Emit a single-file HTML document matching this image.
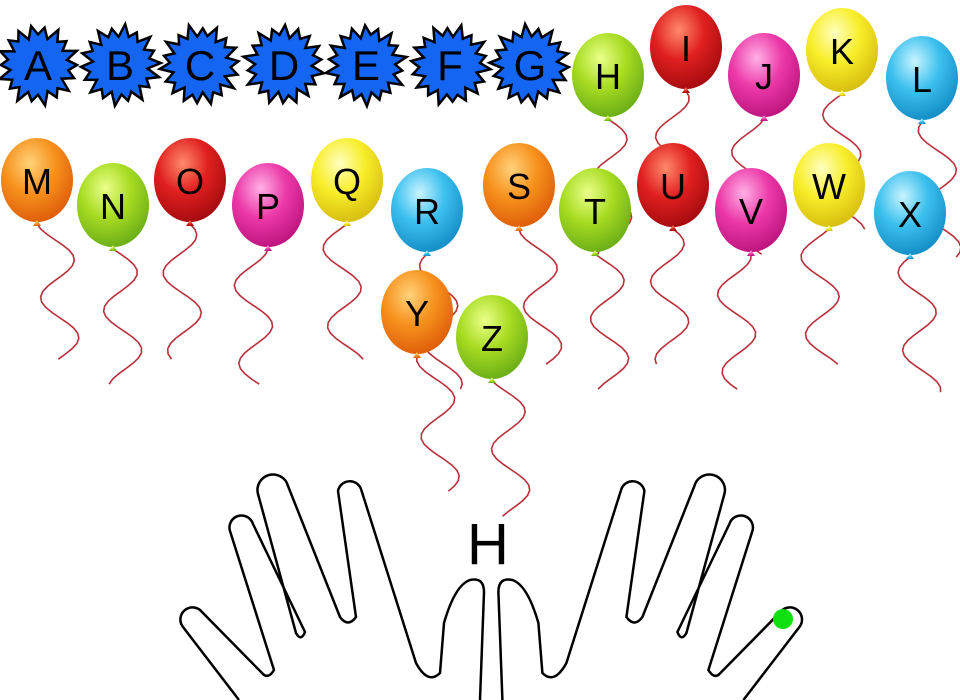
<!DOCTYPE html>
<html><head><meta charset="utf-8"><style>
html,body{margin:0;padding:0;background:#fff;width:960px;height:700px;overflow:hidden}
svg{display:block}
</style></head><body>
<svg id="s" width="960" height="700" viewBox="0 0 960 700" xmlns="http://www.w3.org/2000/svg">
<defs>
<radialGradient id="g-orange" cx="0.4" cy="0.3" r="0.7"><stop offset="0" stop-color="#ffd27a"/><stop offset="0.5" stop-color="#f7921e"/><stop offset="1" stop-color="#e0600a"/></radialGradient>
<radialGradient id="g-green" cx="0.4" cy="0.3" r="0.7"><stop offset="0" stop-color="#eaff8a"/><stop offset="0.5" stop-color="#a8dc22"/><stop offset="1" stop-color="#6eb018"/></radialGradient>
<radialGradient id="g-red" cx="0.4" cy="0.3" r="0.7"><stop offset="0" stop-color="#ff8a6a"/><stop offset="0.5" stop-color="#e02020"/><stop offset="1" stop-color="#a80c10"/></radialGradient>
<radialGradient id="g-pink" cx="0.4" cy="0.3" r="0.7"><stop offset="0" stop-color="#ffb0e6"/><stop offset="0.5" stop-color="#ec3aa8"/><stop offset="1" stop-color="#c01680"/></radialGradient>
<radialGradient id="g-yellow" cx="0.4" cy="0.3" r="0.7"><stop offset="0" stop-color="#ffffc0"/><stop offset="0.5" stop-color="#f8ee2a"/><stop offset="1" stop-color="#d8c010"/></radialGradient>
<radialGradient id="g-blue" cx="0.4" cy="0.3" r="0.7"><stop offset="0" stop-color="#c8f4ff"/><stop offset="0.5" stop-color="#3cc0ee"/><stop offset="1" stop-color="#1690c8"/></radialGradient>
</defs>
<g id="strings"></g>
<g id="stars"></g>
<g id="balloons"></g>
<g id="hands">
<path fill="none" stroke="#000" stroke-width="2.5" stroke-linejoin="round" d="M239,700 L183,627 A11,11 0 0 1 202,612 L262,673 Q268,680 274,670 L230,531 A12,12 0 0 1 253,524 L305,632 Q301,642 296,633 L258,494 A15,15 0 0 1 288,486 L340,617 Q348,628 356,617 L338,491 A12,12 0 0 1 361,489 L416,663 Q428,685 440,673 L444,623 Q455,585 470,580 Q484,577 484,592 L480,700"/>
<g transform="translate(982.4,0) scale(-1,1)">
<path fill="none" stroke="#000" stroke-width="2.5" stroke-linejoin="round" d="M239,700 L183,627 A11,11 0 0 1 202,612 L262,673 Q268,680 274,670 L230,531 A12,12 0 0 1 253,524 L305,632 Q301,642 296,633 L258,494 A15,15 0 0 1 288,486 L340,617 Q348,628 356,617 L338,491 A12,12 0 0 1 361,489 L416,663 Q428,685 440,673 L444,623 Q455,585 470,580 Q484,577 484,592 L480,700"/>
</g>
<circle cx="783" cy="619" r="10" fill="#10e010"/>
</g>
<text x="488" y="564" font-family="Liberation Sans, sans-serif" font-size="58" text-anchor="middle" fill="#000">H</text>
</svg>
<script>
const starLetters=["A","B","C","D","E","F","G"];
const starX=[38,120,200,284,366,450,530];
const balloonLetters=["H","I","J","K","L","M","N","O","P","Q","R","S","T","U","V","W","X","Y","Z"];
const balloonX=[608,686,764,842,922,37,113,190,268,347,427,519,595,673,751,829,910,417,492];
const balloonY=[75,47,75,50,78,180,205,180,205,180,210,185,210,185,210,185,213,312,337];
const balloonColor=["green","red","pink","yellow","blue","orange","green","red","pink","yellow","blue","orange","green","red","pink","yellow","blue","orange","green"];
const NS="http://www.w3.org/2000/svg";
function mk(t,a,p){const e=document.createElementNS(NS,t);for(const k in a)e.setAttribute(k,a[k]);p.appendChild(e);return e;}
const gs=document.getElementById('stars');
starLetters.forEach((L,i)=>{
  const g=mk('g',{},gs);
  
  
  const cx=starX[i],cy=65,n=18;let pts=[];
  for(let k=0;k<n*2;k++){const a=k*Math.PI/n+i*0.3;const r=(k%2?29:39)*(1+0.06*Math.sin(k*1.7+i));pts.push((cx+r*Math.cos(a)).toFixed(1)+','+(cy+r*Math.sin(a)).toFixed(1));}
  mk('polygon',{points:pts.join(' '),fill:'#1466f2',stroke:'#000','stroke-width':2.5,'stroke-linejoin':'miter'},g);
  const t=mk('text',{x:cx,y:cy+15,'font-family':'Liberation Sans, sans-serif','font-size':42,'text-anchor':'middle',fill:'#000'},g);t.textContent=L;
});
const gb=document.getElementById('balloons'),gst=document.getElementById('strings');
balloonLetters.forEach((L,i)=>{
  const cx=balloonX[i],cy=balloonY[i];
  let d='M'+cx+','+(cy+44);
  for(let k=1;k<=26;k++){const y=cy+44+k*5.2;const x=cx+18*Math.sin(k*0.42+i)-18*Math.sin(i)+(k*0.3);d+=' L'+x.toFixed(1)+','+y.toFixed(1);}
  const p=mk('path',{d:d,fill:'none',stroke:'#b8303a','stroke-width':1.6},gst);
  
  
  const g=mk('g',{},gb);
  
  
  const col=balloonColor[i];
  mk('ellipse',{cx:cx,cy:cy,rx:36,ry:42,fill:'url(#g-'+col+')'},g);
  mk('polygon',{points:(cx-4)+','+(cy+46)+' '+(cx+4)+','+(cy+46)+' '+cx+','+(cy+40),fill:'url(#g-'+col+')'},g);
  const t=mk('text',{x:cx,y:cy+14,'font-family':'Liberation Sans, sans-serif','font-size':36,'text-anchor':'middle',fill:'#000'},g);t.textContent=L;
});
</script>
</body></html>
